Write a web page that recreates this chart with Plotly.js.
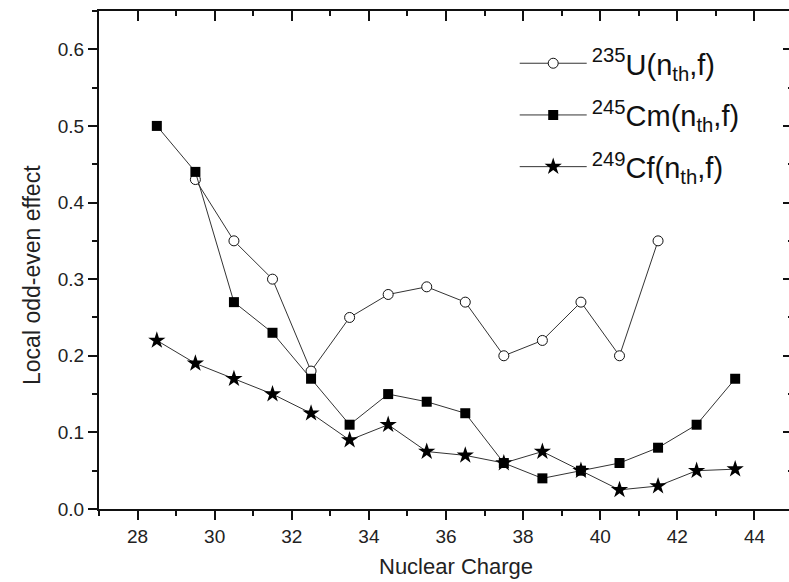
<!DOCTYPE html>
<html>
<head>
<meta charset="utf-8">
<script src="https://cdn.plot.ly/plotly-3.0.1.min.js"></script>
<style>
html, body { margin: 0; padding: 0; overflow: hidden; background: #fff; }
#chart { width: 800px; height: 582px; }
</style>
</head>
<body>
<div id="chart"></div>
<script>
// Nuclear charge (x) and local odd-even effect (y) values
const zU = [29.5, 30.5, 31.5, 32.5, 33.5, 34.5, 35.5, 36.5, 37.5, 38.5, 39.5, 40.5, 41.5];
const yU = [0.43, 0.35, 0.30, 0.18, 0.25, 0.28, 0.29, 0.27, 0.20, 0.22, 0.27, 0.20, 0.35];

const zCm = [28.5, 29.5, 30.5, 31.5, 32.5, 33.5, 34.5, 35.5, 36.5, 37.5, 38.5, 39.5, 40.5, 41.5, 42.5, 43.5];
const yCm = [0.50, 0.44, 0.27, 0.23, 0.17, 0.11, 0.15, 0.14, 0.125, 0.06, 0.04, 0.05, 0.06, 0.08, 0.11, 0.17];

const zCf = [28.5, 29.5, 30.5, 31.5, 32.5, 33.5, 34.5, 35.5, 36.5, 37.5, 38.5, 39.5, 40.5, 41.5, 42.5, 43.5];
const yCf = [0.22, 0.19, 0.17, 0.15, 0.125, 0.09, 0.11, 0.075, 0.07, 0.06, 0.075, 0.05, 0.025, 0.03, 0.05, 0.052];

const seriesNames = [
  '<sup>235</sup>U(n<sub>th</sub>,f)',
  '<sup>245</sup>Cm(n<sub>th</sub>,f)',
  '<sup>249</sup>Cf(n<sub>th</sub>,f)'
];
const xTitle = 'Nuclear Charge';
const yTitle = 'Local odd-even effect';

const FONT = 'Arial, "Liberation Sans", Helvetica, sans-serif';
const lineStyle = { color: '#333', width: 1 };

const traces = [
  {
    x: zU, y: yU, name: seriesNames[0], mode: 'lines+markers', legendgroup: 'a',
    line: lineStyle,
    marker: { symbol: 'circle', size: 10, color: '#fff', line: { color: '#111', width: 1 } }
  },
  {
    x: zCm, y: yCm, name: seriesNames[1], mode: 'lines+markers', legendgroup: 'b',
    line: lineStyle,
    marker: { symbol: 'square', size: 10, color: '#000', line: { color: '#000', width: 0 } }
  },
  {
    x: zCf, y: yCf, name: seriesNames[2], mode: 'lines+markers', legendgroup: 'c',
    line: lineStyle,
    marker: { symbol: 'star', size: 13, color: '#000', line: { color: '#000', width: 0 } }
  },
  { x: [], y: [], xaxis: 'x2', yaxis: 'y2', showlegend: false, hoverinfo: 'skip', mode: 'markers' }
];

const tickFont = { family: FONT, size: 19, color: '#222' };

const layout = {
  width: 800, height: 582,
  margin: { l: 99, r: 7, t: 11, b: 73 },
  paper_bgcolor: '#fff', plot_bgcolor: '#fff',
  font: { family: FONT, color: '#222' },
  showlegend: true,
  legend: {
    x: 0.599, y: 0.946, xanchor: 'left', yanchor: 'top',
    bgcolor: 'rgba(0,0,0,0)', borderwidth: 0,
    font: { family: FONT, size: 29, color: '#111' },
    tracegroupgap: 11, itemwidth: 67
  },
  annotations: [
    {
      text: xTitle, xref: 'paper', yref: 'paper', x: 0.5144, y: -0.116,
      xanchor: 'center', yanchor: 'middle', showarrow: false,
      font: { family: FONT, size: 22, color: '#222' }
    },
    {
      text: yTitle, xref: 'paper', yref: 'paper', x: -0.0965, y: 0.47,
      xanchor: 'center', yanchor: 'middle', textangle: -90, showarrow: false,
      font: { family: FONT, size: 23, color: '#222' }
    }
  ],
  xaxis: {
    range: [27, 45], dtick: 2, tick0: 28, showgrid: false, zeroline: false,
    showline: true, linecolor: '#111', linewidth: 2,
    ticks: 'outside', ticklen: 9, tickwidth: 2, tickcolor: '#111',
    minor: { dtick: 1, ticks: 'outside', ticklen: 5, tickwidth: 2, tickcolor: '#111', showgrid: false },
    tickfont: tickFont
  },
  yaxis: {
    range: [0, 0.65], dtick: 0.1, tick0: 0, tickformat: '.1f', showgrid: false, zeroline: false,
    showline: true, linecolor: '#111', linewidth: 2,
    ticks: 'outside', ticklen: 9, tickwidth: 2, tickcolor: '#111',
    minor: { dtick: 0.05, ticks: 'outside', ticklen: 5, tickwidth: 2, tickcolor: '#111', showgrid: false },
    tickfont: tickFont
  },
  xaxis2: {
    overlaying: 'x', side: 'top', matches: 'x', range: [27, 45], dtick: 2, tick0: 28,
    showgrid: false, zeroline: false, showticklabels: false,
    showline: true, linecolor: '#111', linewidth: 2,
    ticks: 'inside', ticklen: 10, tickwidth: 2, tickcolor: '#111',
    minor: { dtick: 1, ticks: 'inside', ticklen: 5, tickwidth: 2, tickcolor: '#111', showgrid: false }
  },
  yaxis2: {
    overlaying: 'y', side: 'right', matches: 'y', range: [0, 0.65], dtick: 0.1, tick0: 0,
    showgrid: false, zeroline: false, showticklabels: false,
    showline: true, linecolor: '#111', linewidth: 2,
    ticks: 'inside', ticklen: 10, tickwidth: 2, tickcolor: '#111',
    minor: { dtick: 0.05, ticks: 'inside', ticklen: 5, tickwidth: 2, tickcolor: '#111', showgrid: false }
  }
};

Plotly.newPlot('chart', traces, layout, { displayModeBar: false, staticPlot: true });
</script>
</body>
</html>
